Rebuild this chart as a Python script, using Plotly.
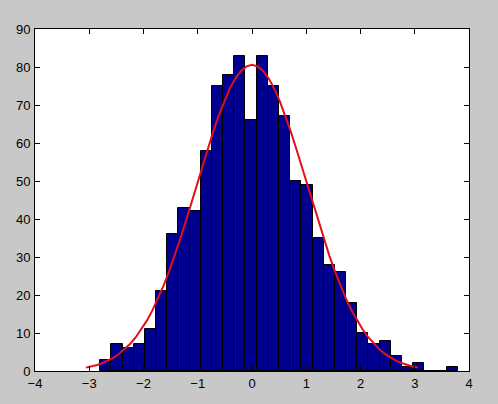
import numpy as np
import plotly.graph_objects as go

# histogram counts (32 bins)
bin_start = -2.798
bin_width = 0.206
counts = [3, 7, 6, 7, 11, 21, 36, 43, 42, 58, 75, 78, 83, 66, 83, 75,
          67, 50, 49, 35, 28, 26, 18, 10, 7, 8, 4, 1, 2, 0, 0, 1]

# fitted normal (histfit style)
mu = 0.0
sigma = 1.02

x_ticks = [-4, -3, -2, -1, 0, 1, 2, 3, 4]
y_ticks = [0, 10, 20, 30, 40, 50, 60, 70, 80, 90]


def make_figure():
    n = sum(counts)
    centers = bin_start + bin_width * (np.arange(len(counts)) + 0.5)

    xs = np.linspace(mu - 3 * sigma, mu + 3 * sigma, 61)
    ys = n * bin_width * np.exp(-0.5 * ((xs - mu) / sigma) ** 2) / (sigma * np.sqrt(2 * np.pi))

    fig = go.Figure()
    fig.add_trace(go.Bar(
        x=centers, y=counts, width=bin_width,
        marker=dict(color="#00008f", line=dict(color="black", width=1)),
        hoverinfo="x+y",
    ))
    fig.add_trace(go.Scatter(
        x=xs, y=ys, mode="lines",
        line=dict(color="#e0101c", width=2),
    ))

    axis_common = dict(
        showgrid=False, zeroline=False, automargin=False,
        showline=True, linecolor="black", linewidth=1,
        mirror="ticks", ticks="inside", ticklen=5, tickcolor="black",
        tickfont=dict(family="Liberation Sans, Arial", size=13, color="black"),
    )
    fig.update_xaxes(range=[-4, 4], tickvals=x_ticks, ticklabelstandoff=0, **axis_common)
    fig.update_yaxes(range=[0, 90], tickvals=y_ticks, ticklabelstandoff=1, **axis_common)

    fig.update_layout(
        width=498, height=404,
        margin=dict(l=35, r=29, t=29, b=33),
        paper_bgcolor="#c8c8c8", plot_bgcolor="white",
        bargap=0, showlegend=False,
    )
    return fig


fig = make_figure()
# drop the browser's default body margin so the figure sits at the page corner
fig.write_html("out.html", config={"displayModeBar": False},
               post_script="document.body.style.margin='0';")
